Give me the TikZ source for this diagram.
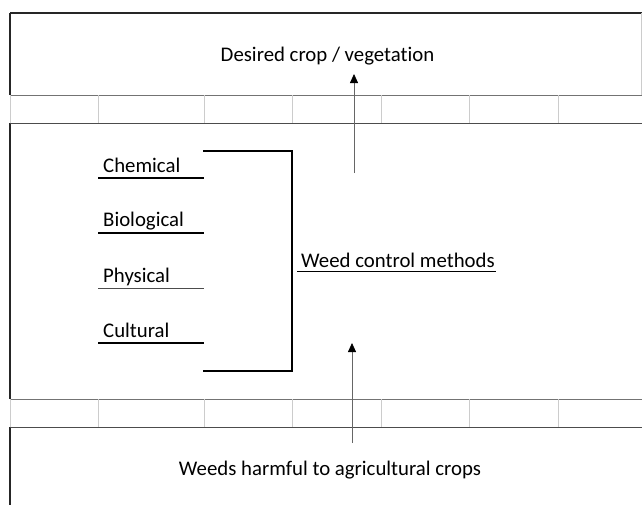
\documentclass[tikz,border=0pt]{standalone}
\usepackage{fontspec}
\setmainfont[Ligatures=NoCommon]{Carlito}
\usetikzlibrary{positioning,arrows.meta}

\begin{document}
\begin{tikzpicture}[x=1pt,y=-1pt]
        \tikzstyle{label}=[inner sep=0, font=\fontsize{20.8}{25}\selectfont];
        \tikzstyle{frame}=[line width=1.2pt, black!85];
        \tikzstyle{strip}=[line width=0.6pt, black!20];
        \tikzstyle{uline}=[line width=1.5pt, black];
        \tikzstyle{flow}=[line width=0.8pt, black!60, -{Triangle[length=9pt, width=8pt, black]}];

        \useasboundingbox (0,0) rectangle (642,504);
        \clip (0,0) rectangle (642,504);

        % boxes and grey strips
        \draw [frame] (10,13) -- (650,13);
        \draw [frame] (10,13) -- (10,95);
        \draw [strip] (641,13) -- (641,95);
        \draw [frame] (10,123) -- (10,399);
        \draw [frame] (10,427) -- (10,510);
        \foreach \ya/\yb in {95/123, 399/427} {
            \draw [line width=0.9pt, black!55] (10,\ya) -- (650,\ya);
            \draw [line width=0.9pt, black!70] (10,\yb) -- (650,\yb);
            \foreach \xs in {10, 98, 204, 292, 381, 469, 558}
                \draw [strip] (\xs,\ya) -- (\xs,\yb);
        }

        % texts
        \node [label, anchor=base] (desired) at (327.5,61) {Desired crop / vegetation};
        \node [label, anchor=base] (weeds) at (330,475) {Weeds harmful to agricultural crops};

        \node [label, anchor=base west] (chem) at (103,172.5) {Chemical};
        \node [label, anchor=base west] (bio) at (103,226.5) {Biological};
        \node [label, anchor=base west] (phys) at (103,282) {Physical};
        \node [label, anchor=base west] (cult) at (103,337) {Cultural};
        \node [label, anchor=base west] (methods) at (301,267) {Weed control methods};

        % underlines
        \draw [uline] (98,178) -- (204,178);
        \draw [uline] (98,233) -- (204,233);
        \draw [line width=0.6pt, black!70] (98,288) -- (204,288);
        \draw [uline] (98,343) -- (204,343);
        \draw [line width=0.9pt] (297,271.5) -- (496,271.5);

        % bracket
        \draw [line width=1.5pt] (203,151) -- (292,151) -- (292,371) -- (203,371);

        % arrows
        \coordinate (upfrom) at (354,173);
        \coordinate (upto) at (354,74);
        \coordinate (lowfrom) at (352,443);
        \coordinate (lowto) at (352,343);
        \draw [flow] (upfrom) -- (upto);
        \draw [flow] (lowfrom) -- (lowto);
\end{tikzpicture}
\end{document}
